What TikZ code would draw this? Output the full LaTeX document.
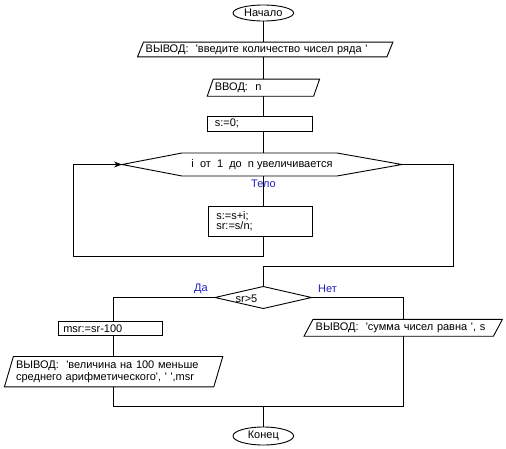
\documentclass[tikz,border=0pt]{standalone}
\usepackage{fontspec}
\newfontfamily\arialf{Liberation Sans}
\usetikzlibrary{shapes.geometric,arrows.meta}
\definecolor{lblblue}{RGB}{30,30,190}
\newcommand\iopara[2]{\draw[conn] ([xshift=#2]#1.north west) -- ([xshift=#2]#1.north east) -- ([xshift=-#2]#1.south east) -- ([xshift=-#2]#1.south west) -- cycle;}
\begin{document}
\begin{tikzpicture}[x=1pt,y=-1pt,
  every node/.style={font=\arialf\fontsize{11}{12.5}\selectfont},
  conn/.style={line width=0.9pt},
  term/.style={ellipse,draw,line width=0.9pt,inner sep=0pt},
  iobox/.style={rectangle,inner ysep=0pt,align=left},
  procbox/.style={rectangle,draw,line width=0.9pt,inner ysep=0pt,align=left},
  lbl/.style={text=lblblue,inner sep=0pt}]
\useasboundingbox (0,0) rectangle (506,448);
\coordinate (axis) at (263.3,0);
\coordinate (lcol) at (113.3,0);
\coordinate (rcol) at (403.3,0);
% terminals
\node[term,minimum width=60.6pt,minimum height=16pt] (start) at (263.3,13) {Начало};
\node[term,minimum width=60.6pt,minimum height=18pt] (end) at (263.3,436) {Конец};
% input / output
\node[iobox,text width=239pt,inner xsep=5pt,minimum height=14.4pt] (out1) at (265.2,49.5) {ВЫВОД:\ \ 'введите количество чисел ряда '};
\iopara{out1}{3pt}
\node[iobox,text width=97pt,inner xsep=4.5pt,minimum height=16.7pt] (in1) at (263.4,87.7) {ВВОД:\ \ n};
\iopara{in1}{3pt}
\node[procbox,text width=90pt,inner xsep=7.5pt,minimum height=15pt] (s0) at (259.8,123.5) {s:=0;};
% loop header
\coordinate (hl) at (122,164.5);
\coordinate (htl) at (182,153);
\coordinate (htr) at (337,153);
\coordinate (hr) at (402,164.5);
\coordinate (hbr) at (337,176);
\coordinate (hbl) at (182,176);
\coordinate (ht) at (263.3,153);
\coordinate (hb) at (263.3,176);
\draw[conn] (hl) -- (htl) -- (htr) -- (hr) -- (hbr) -- (hbl) -- cycle;
\node[inner sep=0pt] (cond) at (262,165) {i\ \ от\ \ 1\ \ до\ \ n увеличивается};
\node[lbl] (telo) at (263.5,183.5) {Тело};
\node[procbox,text width=88pt,inner xsep=8pt,minimum height=30pt] (body) at (260.3,221) {s:=s+i;\\[-2pt]sr:=s/n;};
% decision
\coordinate (dl) at (215,297.5);
\coordinate (dt) at (263.3,286.5);
\coordinate (dr) at (311.5,297.5);
\coordinate (db) at (263.3,308.5);
\draw[conn] (dl) -- (dt) -- (dr) -- (db) -- cycle;
\node[inner sep=0pt] (dtext) at (246.5,298.3) {sr>5};
\node[lbl] (yes) at (201,289) {Да};
\node[lbl] (no) at (327.5,289) {Нет};
% branches
\node[procbox,text width=94pt,inner xsep=5pt,minimum height=13.5pt] (msr) at (110.3,328.3) {msr:=sr-100};
\node[iobox,text width=195pt,inner xsep=7pt,minimum height=30pt] (out3) at (113.6,371.7) {ВЫВОД:\ \ 'величина на 100 меньше\\среднего арифметического', ' ',msr};
\iopara{out3}{4.5pt}
\node[iobox,text width=175pt,inner xsep=7pt,minimum height=16.5pt] (out2) at (403.2,327.8) {ВЫВОД:\ \ 'сумма чисел равна ', s};
\iopara{out2}{4.5pt}
\coordinate (lbx) at (73.3,256);
\coordinate (ex) at (453.3,266.7);
\coordinate (jn) at (263.3,406);
% connectors
\draw[conn] (start.south) -- (axis |- out1.north);
\draw[conn] (axis |- out1.south) -- (axis |- in1.north);
\draw[conn] (axis |- in1.south) -- (axis |- s0.north);
\draw[conn] (axis |- s0.south) -- (ht);
\draw[conn] (hb) -- (axis |- body.north);
\draw[conn,-{Stealth[length=8pt,width=6pt]}] (axis |- body.south) |- (lbx) |- (hl);
\draw[conn] (hr) -| (ex) -| (dt);
\draw[conn] (dl) -| (lcol |- msr.north);
\draw[conn] (lcol |- msr.south) -- (lcol |- out3.north);
\draw[conn] (lcol |- out3.south) |- (jn);
\draw[conn] (dr) -| (rcol |- out2.north);
\draw[conn] (rcol |- out2.south) |- (jn);
\draw[conn] (jn) -- (end.north);
\end{tikzpicture}
\end{document}
